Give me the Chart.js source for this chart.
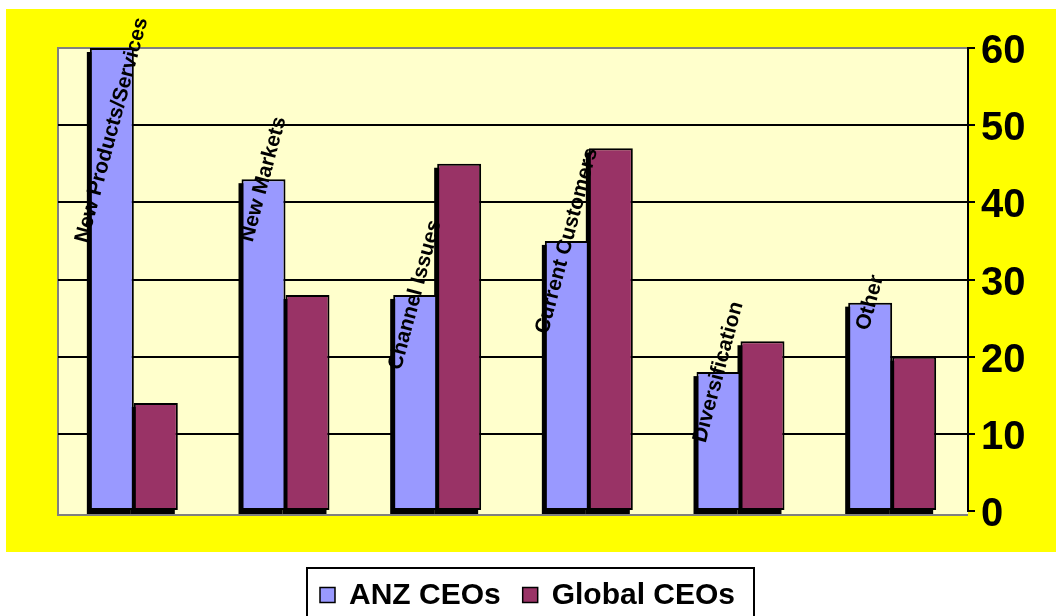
<!DOCTYPE html>
<html lang="en">

<head>
    <meta charset="UTF-8">
    <title>CEO Growth Priorities</title>
    <script src="https://cdn.jsdelivr.net/npm/chart.js"></script>
    <style>
        body { margin: 0; background: #fff; }
    </style>
</head>

<body>
    <canvas id="myChart" width="1056" height="616"></canvas>

    <script>
        var categories = ['New Products/Services', 'New Markets', 'Channel Issues', 'Current Customers', 'Diversification', 'Other'];
        var anzValues = [60, 43, 28, 35, 18, 27];
        var globalValues = [14, 28, 45, 47, 22, 20];
        var yTicks = [0, 10, 20, 30, 40, 50, 60];

        var FONT = "'Liberation Sans', Arial, sans-serif";

        // yellow frame, pale plot wall and gray floor edge
        var backdrop = {
            id: 'backdrop',
            beforeDraw: function (chart) {
                var ctx = chart.ctx, a = chart.chartArea;
                ctx.save();
                ctx.fillStyle = '#fff';
                ctx.fillRect(0, 0, chart.width, chart.height);
                ctx.fillStyle = '#ffff00';
                ctx.fillRect(6, 9, chart.width - 6, 543);
                ctx.fillStyle = '#ffffcc';
                ctx.fillRect(a.left, a.top, a.right - a.left, a.bottom - a.top + 4);
                ctx.strokeStyle = '#808080';
                ctx.lineWidth = 2;
                ctx.beginPath();
                ctx.moveTo(a.right, a.top);
                ctx.lineTo(a.left, a.top);
                ctx.lineTo(a.left, a.bottom + 4);
                ctx.lineTo(a.right, a.bottom + 4);
                ctx.stroke();
                ctx.restore();
            }
        };

        // black drop shadow down-left of every bar
        var barShadow = {
            id: 'barShadow',
            beforeDatasetsDraw: function (chart) {
                var ctx = chart.ctx;
                ctx.save();
                ctx.fillStyle = '#000';
                chart.data.datasets.forEach(function (ds, di) {
                    chart.getDatasetMeta(di).data.forEach(function (bar) {
                        var p = bar.getProps(['x', 'y', 'base', 'width'], true);
                        ctx.fillRect(p.x - p.width / 2 - 3, p.y + 4, p.width, p.base - p.y);
                    });
                });
                ctx.restore();
            }
        };

        // category names sit rotated on top of the ANZ bars
        var categoryLabels = {
            id: 'categoryLabels',
            afterDatasetsDraw: function (chart) {
                var ctx = chart.ctx;
                var meta = chart.getDatasetMeta(0);
                var ang = -75 * Math.PI / 180;
                ctx.save();
                ctx.font = 'bold 21px ' + FONT;
                ctx.fillStyle = '#000';
                ctx.textAlign = 'center';
                ctx.textBaseline = 'middle';
                meta.data.forEach(function (bar, i) {
                    var text = chart.data.labels[i];
                    var half = ctx.measureText(text).width / 2 * Math.sin(-ang) + 4;
                    var y = Math.max(bar.y, 14 + half);
                    ctx.save();
                    ctx.translate(bar.x, y);
                    ctx.rotate(ang);
                    ctx.fillText(text, 0, 0);
                    ctx.restore();
                });
                ctx.restore();
            }
        };

        // boxed legend under the frame
        var boxLegend = {
            id: 'boxLegend',
            afterDraw: function (chart) {
                var ctx = chart.ctx;
                var sets = chart.data.datasets;
                ctx.save();
                ctx.font = 'bold 30px ' + FONT;
                var sq = 15, gap = 14, between = 22;
                ctx.lineWidth = 2;
                ctx.strokeStyle = '#000';
                ctx.strokeRect(307, 568, 447, 60);
                var x = 320;
                var mid = 595;
                ctx.textBaseline = 'middle';
                sets.forEach(function (ds, i) {
                    if (i) x += between;
                    ctx.fillStyle = ds.backgroundColor;
                    ctx.fillRect(x, mid - sq / 2, sq, sq);
                    ctx.lineWidth = 1.5;
                    ctx.strokeRect(x, mid - sq / 2, sq, sq);
                    x += sq + gap;
                    ctx.fillStyle = '#000';
                    ctx.fillText(ds.label, x, mid + 1);
                    x += ctx.measureText(ds.label).width;
                });
                ctx.restore();
            }
        };

        var ctx = document.getElementById('myChart').getContext('2d');

        var myChart = new Chart(ctx, {
            type: 'bar',
            data: {
                labels: categories,
                datasets: [{
                    label: 'ANZ CEOs',
                    data: anzValues,
                    backgroundColor: '#9999ff',
                    borderColor: '#000',
                    borderWidth: 2,
                    borderSkipped: false,
                    barPercentage: 1,
                    categoryPercentage: 0.58
                }, {
                    label: 'Global CEOs',
                    data: globalValues,
                    backgroundColor: '#993366',
                    borderColor: '#000',
                    borderWidth: 2,
                    borderSkipped: false,
                    barPercentage: 1,
                    categoryPercentage: 0.58
                }]
            },
            options: {
                responsive: false,
                animation: false,
                layout: {
                    padding: { left: 58, top: 48, right: 0, bottom: 105 }
                },
                plugins: {
                    legend: { display: false },
                    tooltip: { enabled: false }
                },
                scales: {
                    x: { display: false },
                    y: {
                        position: 'right',
                        min: yTicks[0],
                        max: yTicks[yTicks.length - 1],
                        afterBuildTicks: function (scale) {
                            scale.ticks = yTicks.map(function (v) { return { value: v }; });
                        },
                        afterFit: function (scale) {
                            scale.width = 88;
                        },
                        ticks: {
                            color: '#000',
                            padding: 6,
                            labelOffset: 4,
                            font: { family: FONT, size: 40, weight: 'bold' }
                        },
                        grid: {
                            color: function (c) {
                                return (c.tick && (c.tick.value === 60 || c.tick.value === 0)) ? 'rgba(0,0,0,0)' : '#000';
                            },
                            lineWidth: 2,
                            tickLength: 7,
                            tickColor: '#000'
                        },
                        border: { color: '#000', width: 2 }
                    }
                }
            },
            plugins: [backdrop, barShadow, categoryLabels, boxLegend]
        });
    </script>
</body>

</html>
